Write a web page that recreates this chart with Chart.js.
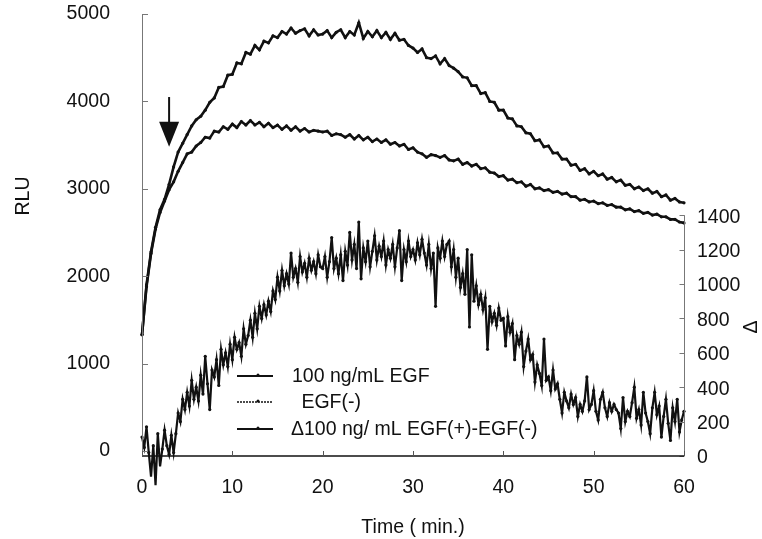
<!DOCTYPE html>
<html>
<head>
<meta charset="utf-8">
<script src="https://cdn.jsdelivr.net/npm/chart.js@4.4.1/dist/chart.umd.min.js"></script>
<style>
  html, body { margin: 0; padding: 0; background: #fff; }
  #wrap { width: 762px; height: 539px; }
</style>
</head>
<body>
<div id="wrap"><canvas id="chartEgf" width="762" height="539"></canvas></div>
<script>
// Data (RLU every 0.5 min, delta every 0.25 min)
const egfValues = [
    1330, 1900, 2280, 2560, 2760, 2880, 3050, 3250, 3420, 3520,
    3620, 3720, 3790, 3830, 3900, 3990, 4040, 4160, 4170, 4300,
    4310, 4440, 4430, 4560, 4540, 4640, 4590, 4690, 4670, 4750,
    4730, 4800, 4770, 4840, 4780, 4810, 4830, 4750, 4820, 4760,
    4770, 4810, 4730, 4790, 4820, 4730, 4800, 4760, 4900, 4720,
    4800, 4740, 4810, 4730, 4790, 4710, 4780, 4700, 4710, 4640,
    4610, 4560, 4600, 4500, 4490, 4520, 4430, 4490, 4410, 4380,
    4340, 4280, 4270, 4180, 4180, 4090, 4100, 4000, 3990, 3900,
    3900, 3810, 3800, 3720, 3710, 3640, 3630, 3550, 3560, 3480,
    3490, 3410, 3410, 3340, 3340, 3270, 3280, 3210, 3230, 3170,
    3200, 3150, 3170, 3110, 3130, 3080, 3100, 3040, 3050, 3000,
    3020, 2980, 3000, 2950, 2970, 2910, 2930, 2870, 2890, 2850,
    2840
];
const egfNegValues = [
    1330, 1880, 2260, 2540, 2730, 2860, 2990, 3080, 3200, 3300,
    3400, 3420, 3490, 3530, 3590, 3580, 3660, 3650, 3710, 3680,
    3740, 3700, 3770, 3730, 3780, 3730, 3760, 3710, 3750, 3700,
    3730, 3680, 3720, 3670, 3710, 3660, 3690, 3650, 3670, 3660,
    3650, 3660, 3610, 3630, 3620, 3590, 3620, 3570, 3610, 3560,
    3590, 3540, 3570, 3530, 3560, 3510, 3530, 3490, 3510, 3450,
    3470, 3420, 3400, 3360, 3390, 3380, 3360, 3380, 3330, 3320,
    3340, 3280, 3300, 3260, 3280, 3230, 3240, 3190, 3180, 3140,
    3150, 3100, 3110, 3070, 3080, 3030, 3050, 3000, 3010, 2980,
    2990, 2960, 2970, 2940, 2950, 2910, 2910, 2870, 2880, 2850,
    2860, 2830, 2840, 2810, 2820, 2790, 2790, 2760, 2770, 2740,
    2750, 2720, 2730, 2700, 2710, 2680, 2680, 2650, 2650, 2620,
    2610
];
const deltaValues = [
    110, 50, 170, 20, -120, 60, -170, 130,
    -60, 40, 150, 60, 10, 120, 20, 130,
    250, 200, 330, 270, 370, 290, 440, 330,
    400, 320, 470, 360, 580, 420, 270, 500,
    460, 560, 410, 620, 530, 600, 520, 650,
    560, 690, 620, 660, 580, 740, 650, 700,
    790, 690, 830, 740, 870, 800, 880, 820,
    900, 840, 960, 910, 1040, 960, 1080, 990,
    1060, 1000, 1180, 1040, 1090, 1010, 1160, 1070,
    1120, 1040, 1150, 1080, 1130, 1060, 1170, 1100,
    1090, 1160, 1040, 1130, 1270, 1090, 1150, 1060,
    1170, 1020, 1190, 1110, 1300, 1140, 1230, 1090,
    1360, 1030, 1210, 1130, 1250, 1100, 1190, 1280,
    1140, 1220, 1160, 1250, 1110, 1200, 1150, 1230,
    1100, 1210, 1310, 1020, 1200, 1130, 1250, 1160,
    1200, 1140, 1240, 1170, 1260, 1180, 1110, 1230,
    1090, 1180, 870, 1210, 1150, 1250, 1160, 1230,
    1250, 1100, 1200, 1040, 1150, 980, 1060, 940,
    1200, 750, 1170, 900, 990, 880, 940, 850,
    920, 620, 870, 780, 830, 760, 860, 790,
    800, 640, 810, 720, 770, 560, 700, 650,
    720, 520, 610, 680, 560, 590, 430, 530,
    480, 410, 680, 440, 460, 380, 500, 390,
    420, 330, 250, 370, 320, 280, 360, 300,
    340, 230, 300, 260, 320, 460, 270, 300,
    380, 260, 210, 330, 370, 280, 230, 310,
    260, 300, 270, 250, 160, 340, 200, 260,
    230, 310, 400, 220, 270, 180, 370, 250,
    200, 130, 280, 370, 240, 290, 110, 230,
    330, 190, 90, 280, 200, 330, 140, 210,
    260
];
const egfTimes = egfValues.map((_, i) => i * 0.5);
const deltaTimes = deltaValues.map((_, i) => i * 0.25);

const xTicks = [0, 10, 20, 30, 40, 50, 60];
const rluTicks = [0, 1000, 2000, 3000, 4000, 5000];
const deltaTicks = [0, 200, 400, 600, 800, 1000, 1200, 1400];
const legendLabels = ['100 ng/mL EGF', ' EGF(-)', 'Δ100 ng/ mL EGF(+)-EGF(-)'];

const FONT = '"Liberation Sans", Arial, sans-serif';
const FONT_SIZE = 19.5;
const INK = '#111';

// Axis lines, tick labels, titles, arrow and legend
const decorations = {
    id: 'decorations',
    afterDraw(chart) {
        const { ctx, chartArea, scales } = chart;
        const x = scales.x, y = scales.y, y2 = scales.y2;
        ctx.save();

        // left axis
        ctx.strokeStyle = '#777';
        ctx.lineWidth = 1;
        ctx.beginPath();
        ctx.moveTo(chartArea.left + 0.5, chartArea.top);
        ctx.lineTo(chartArea.left + 0.5, chartArea.bottom);
        rluTicks.forEach(v => {
            const py = Math.round(y.getPixelForValue(v)) + 0.5;
            ctx.moveTo(chartArea.left, py);
            ctx.lineTo(chartArea.left + 6, py);
        });
        ctx.stroke();

        // right axis (only 0..1400)
        ctx.beginPath();
        const rx = chartArea.right + 0.5;
        ctx.moveTo(rx, y2.getPixelForValue(1400));
        ctx.lineTo(rx, chartArea.bottom);
        deltaTicks.forEach(v => {
            const py = Math.round(y2.getPixelForValue(v)) + 0.5;
            ctx.moveTo(rx, py);
            ctx.lineTo(rx - 5, py);
        });
        ctx.stroke();

        // bottom axis
        ctx.strokeStyle = INK;
        ctx.lineWidth = 1.5;
        ctx.beginPath();
        ctx.moveTo(chartArea.left, chartArea.bottom);
        ctx.lineTo(chartArea.right, chartArea.bottom);
        ctx.stroke();
        ctx.lineWidth = 1;
        ctx.strokeStyle = '#555';
        ctx.beginPath();
        xTicks.forEach(v => {
            const px = Math.round(x.getPixelForValue(v)) + 0.5;
            ctx.moveTo(px, chartArea.bottom);
            ctx.lineTo(px, chartArea.bottom - 5);
        });
        ctx.stroke();

        // y tick labels
        ctx.fillStyle = INK;
        ctx.font = FONT_SIZE + 'px ' + FONT;
        ctx.textBaseline = 'middle';
        ctx.textAlign = 'right';
        rluTicks.forEach(v => ctx.fillText(String(v), 110, y.getPixelForValue(v)));
        ctx.textAlign = 'left';
        deltaTicks.forEach(v => ctx.fillText(String(v), 697, y2.getPixelForValue(v) + 2));

        // axis titles
        ctx.textAlign = 'center';
        ctx.save();
        ctx.translate(24, 196);
        ctx.rotate(-Math.PI / 2);
        ctx.fillText('RLU', 0, 0);
        ctx.restore();
        ctx.save();
        ctx.translate(752, 327);
        ctx.rotate(-Math.PI / 2);
        ctx.fillText('Δ', 0, 0);
        ctx.restore();

        // arrow marking EGF addition
        const ax = x.getPixelForValue(3);
        const tipY = y.getPixelForValue(3480);
        const topY = y.getPixelForValue(4050);
        ctx.strokeStyle = INK;
        ctx.lineWidth = 2;
        ctx.beginPath();
        ctx.moveTo(ax, topY);
        ctx.lineTo(ax, tipY - 20);
        ctx.stroke();
        ctx.beginPath();
        ctx.moveTo(ax - 10, tipY - 25);
        ctx.lineTo(ax + 10, tipY - 25);
        ctx.lineTo(ax, tipY);
        ctx.closePath();
        ctx.fill();

        // legend
        const rows = [376, 402, 429];
        const textX = [292, 296, 291];
        rows.forEach((ry, i) => {
            ctx.strokeStyle = INK;
            ctx.lineWidth = i === 1 ? 1.5 : 2;
            ctx.setLineDash(i === 1 ? [2, 1] : []);
            ctx.beginPath();
            ctx.moveTo(237, ry);
            ctx.lineTo(273, ry);
            ctx.stroke();
            ctx.setLineDash([]);
            ctx.beginPath();
            ctx.arc(258, ry - 1, 1.5, 0, Math.PI * 2);
            ctx.fill();
            ctx.textAlign = 'left';
            ctx.fillText(legendLabels[i], textX[i], ry + 1);
        });
        ctx.restore();
    }
};

const lineStyle = {
    borderColor: INK,
    backgroundColor: INK,
    borderWidth: 2.6,
    pointRadius: 1.6,
    pointBackgroundColor: INK,
    pointBorderWidth: 0,
    tension: 0,
    clip: false
};

new Chart(document.getElementById('chartEgf').getContext('2d'), {
    type: 'line',
    data: {
        datasets: [
            { ...lineStyle, label: legendLabels[0], yAxisID: 'y',
              data: egfValues.map((v, i) => ({ x: egfTimes[i], y: v })) },
            { ...lineStyle, label: legendLabels[1], yAxisID: 'y',
              data: egfNegValues.map((v, i) => ({ x: egfTimes[i], y: v })) },
            { ...lineStyle, label: legendLabels[2], yAxisID: 'y2', borderWidth: 2.2,
              data: deltaValues.map((v, i) => ({ x: deltaTimes[i], y: v })) }
        ]
    },
    options: {
        responsive: false,
        animation: false,
        devicePixelRatio: 1,
        layout: { padding: { top: 14, left: 0, right: 0, bottom: 0 } },
        plugins: { legend: { display: false }, tooltip: { enabled: false } },
        scales: {
            x: {
                type: 'linear', min: 0, max: 60,
                grid: { display: false, drawTicks: false },
                border: { display: false },
                afterBuildTicks: s => { s.ticks = xTicks.map(v => ({ value: v })); },
                afterFit: s => { s.height = 83; },
                ticks: { color: INK, padding: 20, font: { family: FONT, size: FONT_SIZE } },
                title: { display: true, text: 'Time ( min.)', color: INK,
                         padding: { top: 5, bottom: 0 }, font: { family: FONT, size: FONT_SIZE } }
            },
            y: {
                position: 'left', min: -57, max: 5000,
                grid: { display: false, drawTicks: false },
                border: { display: false },
                ticks: { display: false },
                afterFit: s => { s.width = 142; }
            },
            y2: {
                position: 'right', min: 0, max: 2570,
                grid: { display: false, drawTicks: false },
                border: { display: false },
                ticks: { display: false },
                afterFit: s => { s.width = 78; }
            }
        }
    },
    plugins: [decorations]
});
</script>
</body>
</html>
